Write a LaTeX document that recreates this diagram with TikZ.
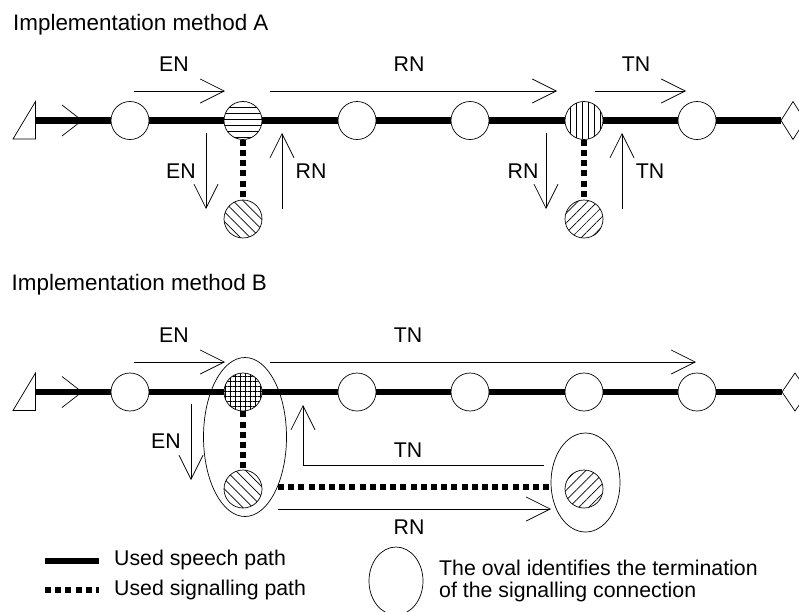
\documentclass[tikz,border=0pt]{standalone}
\usepackage{fontspec}
\setmainfont{Liberation Sans}
\usetikzlibrary{arrows.meta,patterns.meta,shapes.geometric}
\tikzstyle{arrow} = [line width=0.7pt,-{Straight Barb[length=24pt,width=24pt,line width=0.7pt]}]
\tikzstyle{speech} = [line width=6.5pt]
\tikzstyle{signal} = [line width=6pt,dash pattern=on 6pt off 4.2pt]
\tikzstyle{exch} = [circle,draw,line width=0.7pt,fill=white,minimum size=38pt,inner sep=0pt]
\tikzstyle{oval} = [ellipse,draw,line width=0.7pt,inner sep=0pt]
\tikzstyle{lbl} = [inner sep=0pt,font=\fontsize{21.3}{25}\selectfont]
\tikzstyle{note} = [lbl,anchor=west]
\tikzstyle{title} = [inner sep=0pt,anchor=west,font=\fontsize{22.4}{26}\selectfont]

\begin{document}
\begin{tikzpicture}[x=1pt,y=-1pt]
\useasboundingbox (0,0) rectangle (799,611);

% method A
\node[title] (titleA) at (13,25) {Implementation method A};
\coordinate (startA) at (35.5,120.5);
\coordinate (endA) at (781,120.5);
\node[exch] (a1) at (130,120.5) {};
\node[exch,postaction={pattern={Lines[angle=0,distance=6pt,line width=0.7pt]}}] (a2) at (243,120.5) {};
\node[exch] (a3) at (357,120.5) {};
\node[exch] (a4) at (470,120.5) {};
\node[exch,postaction={pattern={Lines[angle=90,distance=6pt,line width=0.7pt]}}] (a5) at (584,120.5) {};
\node[exch] (a6) at (697,120.5) {};
\node[exch,postaction={pattern={Lines[angle=-45,distance=7pt,line width=0.7pt]}}] (s2) at (243,219) {};
\node[exch,postaction={pattern={Lines[angle=45,distance=7pt,line width=0.7pt]}}] (s5) at (584,219) {};

\draw[line width=0.7pt] (13,139) -- (35.5,139) -- (35.5,101.5) -- cycle;
\draw[line width=0.7pt] (781,120.5) -- (793,101.5) -- (805,120.5) -- (793,139.5) -- cycle;
\draw[speech] (startA) -- (a1);
\draw[speech] (a1) -- (a2);
\draw[speech] (a2) -- (a3);
\draw[speech] (a3) -- (a4);
\draw[speech] (a4) -- (a5);
\draw[speech] (a5) -- (a6);
\draw[speech] (a6) -- (endA);
\draw[signal] (a2) -- (s2);
\draw[signal] (a5) -- (s5);
\draw[line width=0.7pt] (62,105) -- (82,120.5) -- (62,136);

\coordinate (p1) at (134,91);
\coordinate (p2) at (225,91);
\coordinate (p3) at (270,91);
\coordinate (p4) at (557,91);
\coordinate (p5) at (595,91);
\coordinate (p6) at (686,91);
\draw[arrow] (p1) -- (p2);
\draw[arrow] (p3) -- (p4);
\draw[arrow] (p5) -- (p6);
\coordinate (q1) at (206,133);
\coordinate (q2) at (206,209);
\coordinate (q3) at (282,209);
\coordinate (q4) at (282,133);
\coordinate (q5) at (546,133);
\coordinate (q6) at (546,209);
\coordinate (q7) at (622,209);
\coordinate (q8) at (622,133);
\draw[arrow] (q1) -- (q2);
\draw[arrow] (q3) -- (q4);
\draw[arrow] (q5) -- (q6);
\draw[arrow] (q7) -- (q8);

\node[lbl] (l1) at (174,64.5) {EN};
\node[lbl] (l2) at (409,64.5) {RN};
\node[lbl] (l3) at (636,64.5) {TN};
\node[lbl] (l4) at (181,171) {EN};
\node[lbl] (l5) at (311,171) {RN};
\node[lbl] (l6) at (523,171) {RN};
\node[lbl] (l7) at (650,171) {TN};

% method B
\node[title] (titleB) at (11.5,285) {Implementation method B};
\coordinate (startB) at (35.5,392);
\coordinate (endB) at (782,392);
\node[exch] (b1) at (130,392) {};
\node[exch,postaction={pattern={Lines[angle=0,distance=5pt,line width=0.7pt]}},postaction={pattern={Lines[angle=90,distance=5pt,line width=0.7pt]}}] (b2) at (243,392) {};
\node[exch] (b3) at (357,392) {};
\node[exch] (b4) at (470,392) {};
\node[exch] (b5) at (584,392) {};
\node[exch] (b6) at (697,392) {};
\node[exch,postaction={pattern={Lines[angle=-45,distance=7pt,line width=0.7pt]}}] (t2) at (243,489) {};
\node[exch,postaction={pattern={Lines[angle=45,distance=7pt,line width=0.7pt]}}] (t5) at (584,489) {};
\node[oval,minimum width=83pt,minimum height=159pt] (ov1) at (245,437) {};
\node[oval,minimum width=69pt,minimum height=99pt] (ov2) at (585.5,482.5) {};

\draw[line width=0.7pt] (13,410.5) -- (35.5,410.5) -- (35.5,373) -- cycle;
\draw[line width=0.7pt] (782,392) -- (795,373) -- (808,392) -- (795,411) -- cycle;
\draw[speech] (startB) -- (b1);
\draw[speech] (b1) -- (b2);
\draw[speech] (b2) -- (b3);
\draw[speech] (b3) -- (b4);
\draw[speech] (b4) -- (b5);
\draw[speech] (b5) -- (b6);
\draw[speech] (b6) -- (endB);
\draw[signal] (b2) -- (t2);
\coordinate (r1) at (278,487);
\coordinate (r2) at (551,487);
\draw[signal] (r1) -- (r2);
\draw[line width=0.7pt] (62,376.5) -- (82,392) -- (62,407.5);

\coordinate (u1) at (134,362);
\coordinate (u2) at (225,362);
\coordinate (u3) at (270,362);
\coordinate (u4) at (696,362);
\coordinate (u5) at (191,404);
\coordinate (u6) at (191,480);
\coordinate (u7) at (544,465);
\coordinate (u8) at (303,465);
\coordinate (u9) at (303,405);
\coordinate (u10) at (278,509);
\coordinate (u11) at (551,509);
\draw[arrow] (u1) -- (u2);
\draw[arrow] (u3) -- (u4);
\draw[arrow] (u5) -- (u6);
\draw[arrow] (u7) -- (u8) -- (u9);
\draw[arrow] (u10) -- (u11);

\node[lbl] (l8) at (174,335.5) {EN};
\node[lbl] (l9) at (408,335.5) {TN};
\node[lbl] (l10) at (166,441) {EN};
\node[lbl] (l11) at (408,450) {TN};
\node[lbl] (l12) at (409,527) {RN};

% legend
\coordinate (k1) at (45,561);
\coordinate (k2) at (99,561);
\coordinate (k3) at (45,590);
\coordinate (k4) at (99,590);
\draw[speech] (k1) -- (k2);
\draw[signal] (k3) -- (k4);
\node[note] (k5) at (114,560) {Used speech path};
\node[note] (k6) at (114,590) {Used signalling path};
\node[oval,minimum width=54pt,minimum height=68pt] (ov3) at (396,581) {};
\node[note] (k7) at (439,568) {The oval identifies the termination};
\node[note] (k8) at (439,592) {of the signalling connection};
\end{tikzpicture}
\end{document}
